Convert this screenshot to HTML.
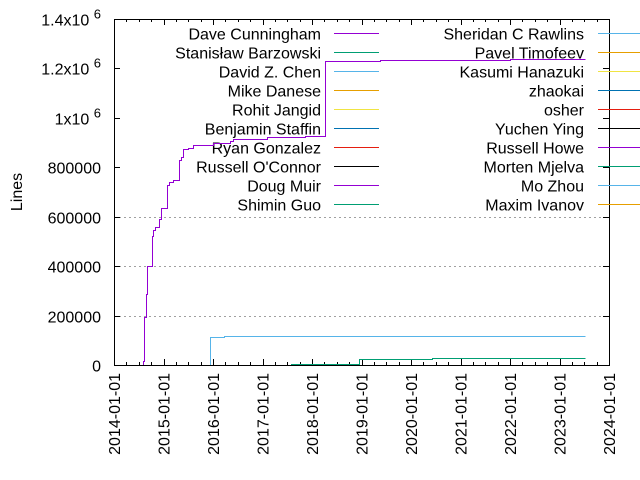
<!DOCTYPE html>
<html><head><meta charset="utf-8"><style>
html,body{margin:0;padding:0;background:#fff;}
svg{display:block;font-family:"Liberation Sans",sans-serif;}
</style></head><body>
<svg id="chart" width="640" height="480" viewBox="0 0 640 480" xmlns="http://www.w3.org/2000/svg">
<g id="grid"></g>
<g id="axes"></g>
<g id="legend"></g>
<g id="series"></g>
<text transform="translate(22,192) rotate(-90)" text-anchor="middle" font-size="16" fill="#000">Lines</text>
</svg>
<script>
const yTicks = [0, 200000, 400000, 600000, 800000, 1000000, 1200000, 1400000];
const yTickLabels = ["0", "200000", "400000", "600000", "800000", "1x10|6", "1.2x10|6", "1.4x10|6"];
const xTickYears = [2014, 2015, 2016, 2017, 2018, 2019, 2020, 2021, 2022, 2023, 2024];
const xTickLabels = ["2014-01-01","2015-01-01","2016-01-01","2017-01-01","2018-01-01","2019-01-01","2020-01-01","2021-01-01","2022-01-01","2023-01-01","2024-01-01"];
const leftNames = ["Dave Cunningham","Stanisław Barzowski","David Z. Chen","Mike Danese","Rohit Jangid","Benjamin Staffin","Ryan Gonzalez","Russell O'Connor","Doug Muir","Shimin Guo"];
const rightNames = ["Sheridan C Rawlins","Pavel Timofeev","Kasumi Hanazuki","zhaokai","osher","Yuchen Ying","Russell Howe","Morten Mjelva","Mo Zhou","Maxim Ivanov"];
const palette = ["#9400d3","#009e73","#56b4e9","#e69f00","#f0e442","#0072b2","#e51e10","#000000"];
const daveT = [2014.59,2014.61,2014.64,2014.66,2014.77,2014.79,2014.83,2014.91,2014.95,2015.07,2015.11,2015.19,2015.31,2015.35,2015.39,2015.49,2015.6,2016.0,2016.34,2016.4,2017.09,2017.86,2018.26,2018.265,2019.37,2022.0,2023.51];
const daveV = [15000,195000,288000,400000,520000,545000,560000,590000,635000,730000,740000,750000,830000,840000,875000,880000,890000,898000,905000,915000,922000,928000,1080000,1232000,1235000,1237000,1237000];
const chenT = [2015.94,2016.22,2023.51];
const chenV = [113000,117000,117000];
const stanT = [2017.58,2018.94,2020.42,2023.51];
const stanV = [3000,23000,27000,27000];

const X0=114,X1=609,Y0=365,Y1=19;
const xs = y => X0 + (y-2014)/10*(X1-X0);
const ys = v => Y0 - v/1400000*(Y0-Y1);
const NS="http://www.w3.org/2000/svg";
function mk(tag, attrs, parent){const e=document.createElementNS(NS,tag);for(const k in attrs)e.setAttribute(k,attrs[k]);parent.appendChild(e);return e;}
const grid=document.getElementById('grid'),axes=document.getElementById('axes'),legend=document.getElementById('legend'),series=document.getElementById('series');

yTicks.forEach((v,i)=>{
  const y=Math.round(ys(v))+0.5;
  if(v<=600000 && v>0){const g=mk('line',{x1:X0,x2:X1,y1:y,y2:y,stroke:'#a0a0a0','stroke-dasharray':'2,3'},grid);
  
  }
  mk('line',{x1:X0,x2:X0+6,y1:y,y2:y,stroke:'#000'},axes);
  mk('line',{x1:X1,x2:X1-6,y1:y,y2:y,stroke:'#000'},axes);
  const parts=yTickLabels[i].split('|');
  const t=mk('text',{x:101,y:y+6,'text-anchor':'end','font-size':'16',fill:'#000'},axes);
  
  
  if(parts.length>1){
    t.textContent=parts[0]+' ';
    const s=mk('tspan',{'font-size':'13',dy:'-7'},t);s.textContent=parts[1];}
  else t.textContent=parts[0];
});
for(let q=0;q<=40;q++){
  const x=Math.round(xs(2014+q/4))+0.5, L=(q%4===0)?6:3;
  mk('line',{x1:x,x2:x,y1:Y0,y2:Y0-L,stroke:'#000'},axes);
  mk('line',{x1:x,x2:x,y1:Y1,y2:Y1+L,stroke:'#000'},axes);
}
xTickYears.forEach((yr,i)=>{
  const x=xs(yr);
  const t=mk('text',{transform:`translate(${x+6},373) rotate(-90)`,'text-anchor':'end','font-size':'16',fill:'#000'},axes);
  
  
  t.textContent=xTickLabels[i];
});
const frame=mk('rect',{x:X0+0.5,y:Y1+0.5,width:X1-X0,height:Y0-Y1,fill:'none',stroke:'#000'},axes);



function legendCol(names, tx, lx1, lx2, off){
  names.forEach((n,i)=>{
    const y=33+i*19+0.5, c=palette[(i+off)%palette.length];
    const g=mk('g',{},legend);
    
    
    const t=mk('text',{x:tx,y:y+6,'text-anchor':'end','font-size':'16',fill:'#000'},g);t.textContent=n;
    mk('line',{x1:lx1,x2:lx2,y1:y,y2:y,stroke:c,'stroke-width':1},g);
  });
}
legendCol(leftNames,321,334,379,0);
legendCol(rightNames,584,598,645,2);

function step(T,V,color,name){
  let d=`M${Math.round(xs(T[0]))+0.5},${Y0}`;
  T.forEach((t,i)=>{const x=Math.round(xs(t))+0.5;d+=` L${x},${i?Math.round(ys(V[i-1]))+0.5:Y0} L${x},${Math.round(ys(V[i]))+0.5}`;});
  const p=mk('path',{d:d,fill:'none',stroke:color,'stroke-width':1},series);
  
  
}
step(stanT,stanV,'#009e73','series-stanislaw-barzowski');
step(chenT,chenV,'#56b4e9','series-david-z-chen');
step(daveT,daveV,'#9400d3','series-dave-cunningham');
</script>
</body></html>
